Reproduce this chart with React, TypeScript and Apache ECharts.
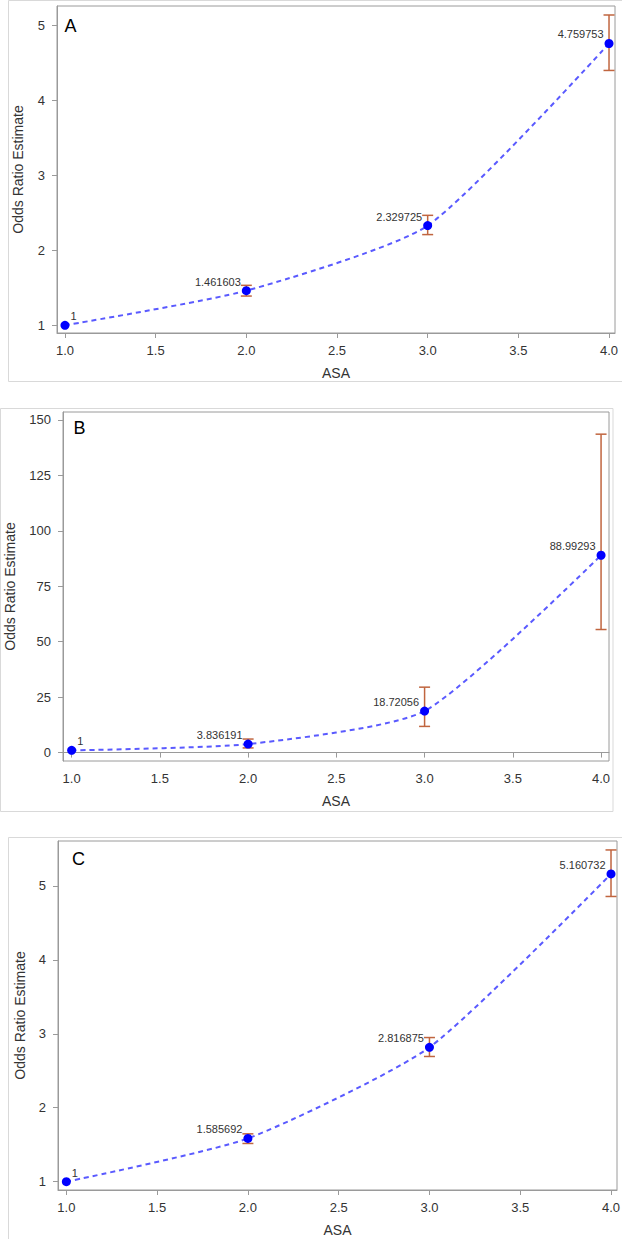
import React, { useEffect, useRef } from "react";
import * as echarts from "echarts";

// ---- data ----
const asa = [1, 2, 3, 4];

const orA = [1, 1.461603, 2.329725, 4.759753];
const lowA = [null, 1.39, 2.21, 4.4];
const highA = [null, 1.533, 2.467, 5.14];

const orB = [1, 3.836191, 18.72056, 88.99293];
const lowB = [null, 2.1, 11.8, 55.5];
const highB = [null, 6.1, 29.5, 143.6];

const orC = [1, 1.585692, 2.816875, 5.160732];
const lowC = [null, 1.517, 2.693, 4.856];
const highC = [null, 1.647, 2.949, 5.485];

const xTicks = [1, 1.5, 2, 2.5, 3, 3.5, 4];
const yTicksA = [1, 2, 3, 4, 5];
const yTicksB = [0, 25, 50, 75, 100, 125, 150];
const yTicksC = [1, 2, 3, 4, 5];

const panelLetters = ["A", "B", "C"];

const TICK_FONT = "'Liberation Sans Narrow', 'Arial Narrow', 'Liberation Sans', Arial, sans-serif";
const TEXT_FONT = "'Liberation Sans', Arial, sans-serif";
const ERR_COLOR = "#c0653f";

type Panel = {
  or: number[];
  low: (number | null)[];
  high: (number | null)[];
  yTicks: number[];
  yMin: number;
  yMax: number;
  xMin: number;
  xMax: number;
  grid: { left: number; top: number; width: number; height: number };
  nameGap: number;
};

const panels: Panel[] = [
  {
    or: orA, low: lowA, high: highA, yTicks: yTicksA,
    yMin: 0.897, yMax: 5.26, xMin: 0.956, xMax: 4.033,
    grid: { left: 57, top: 6, width: 558, height: 327 },
    nameGap: 32,
  },
  {
    or: orB, low: lowB, high: highB, yTicks: yTicksB,
    yMin: -3.8, yMax: 153.6, xMin: 0.951, xMax: 4.045,
    grid: { left: 63, top: 412, width: 546, height: 349 },
    nameGap: 46,
  },
  {
    or: orC, low: lowC, high: highC, yTicks: yTicksC,
    yMin: 0.888, yMax: 5.606, xMin: 0.954, xMax: 4.033,
    grid: { left: 58, top: 841, width: 559, height: 349 },
    nameGap: 31,
  },
];

const letterPos = [
  [70.6, 26],
  [79.4, 427.7],
  [78.6, 859.3],
];

export default function App() {
  const ref = useRef<HTMLDivElement>(null);

  useEffect(() => {
    if (!ref.current) return;
    const chart = echarts.init(ref.current, undefined, { renderer: "svg" });

    const grids: any[] = [];
    const xAxes: any[] = [];
    const yAxes: any[] = [];
    const series: any[] = [];

    panels.forEach((p, i) => {
      grids.push({
        ...p.grid,
        show: true,
        borderColor: "#9a9a9a",
        borderWidth: 1,
        containLabel: false,
        outerBoundsMode: "none",
      });
      xAxes.push({
        type: "value",
        gridIndex: i,
        min: p.xMin,
        max: p.xMax,
        name: "ASA",
        nameLocation: "middle",
        nameGap: 33,
        nameTextStyle: { fontFamily: TEXT_FONT, fontSize: 14, color: "#333" },
        axisLine: { show: true, lineStyle: { color: "#9a9a9a" } },
        axisTick: { show: true, length: 5, lineStyle: { color: "#9a9a9a" }, customValues: xTicks },
        axisLabel: {
          customValues: xTicks,
          margin: 11,
          fontFamily: TICK_FONT,
          fontSize: 13,
          color: "#333",
          formatter: (v: number) => v.toFixed(1),
        },
        splitLine: { show: false },
      });
      yAxes.push({
        type: "value",
        gridIndex: i,
        min: p.yMin,
        max: p.yMax,
        name: "Odds Ratio Estimate",
        nameLocation: "middle",
        nameGap: p.nameGap,
        nameTextStyle: { fontFamily: TEXT_FONT, fontSize: 14, color: "#333" },
        axisLine: { show: true, lineStyle: { color: "#9a9a9a" } },
        axisTick: { show: true, length: 5, lineStyle: { color: "#9a9a9a" }, customValues: p.yTicks },
        axisLabel: {
          customValues: p.yTicks,
          margin: 12,
          fontFamily: TICK_FONT,
          fontSize: 13,
          color: "#333",
          formatter: (v: number) => String(Math.round(v)),
        },
        splitLine: { show: false },
      });

      const errData = asa
        .map((x, k) => [x, p.low[k], p.high[k]])
        .filter((d) => d[1] != null && d[2] != null);

      series.push({
        type: "custom",
        xAxisIndex: i,
        yAxisIndex: i,
        z: 1,
        data: errData,
        renderItem: (params: any, api: any) => {
          const x = api.value(0);
          const lo = api.coord([x, api.value(1)]);
          const hi = api.coord([x, api.value(2)]);
          const w = 5.5;
          const style = { stroke: ERR_COLOR, lineWidth: 1.5 };
          return {
            type: "group",
            children: [
              { type: "line", shape: { x1: lo[0], y1: lo[1], x2: hi[0], y2: hi[1] }, style },
              { type: "line", shape: { x1: lo[0] - w, y1: lo[1], x2: lo[0] + w, y2: lo[1] }, style },
              { type: "line", shape: { x1: hi[0] - w, y1: hi[1], x2: hi[0] + w, y2: hi[1] }, style },
            ],
          };
        },
      });

      series.push({
        type: "line",
        xAxisIndex: i,
        yAxisIndex: i,
        z: 3,
        smooth: 0.2,
        symbol: "circle",
        symbolSize: 9,
        showAllSymbol: true,
        itemStyle: { color: "#0000ff" },
        lineStyle: { color: "#5a5aff", width: 2, type: [5, 4] },
        data: asa.map((x, k) => ({
          value: [x, p.or[k]],
          label: {
            show: true,
            position: k === 0 ? "right" : "left",
            distance: 1,
            offset: [0, -9],
            formatter: String(p.or[k]),
            fontFamily: TEXT_FONT,
            fontSize: 11,
            color: "#333",
          },
        })),
      });
    });

    const graphics: any[] = [
      { type: "rect", silent: true, shape: { x: 8.5, y: 0.5, width: 620, height: 381 }, style: { fill: "none", stroke: "#d9d9d9", lineWidth: 1 } },
      { type: "rect", silent: true, shape: { x: 0.5, y: 408.5, width: 612.5, height: 403 }, style: { fill: "none", stroke: "#d9d9d9", lineWidth: 1 } },
      { type: "rect", silent: true, shape: { x: 8.5, y: 837.5, width: 620, height: 410 }, style: { fill: "none", stroke: "#d9d9d9", lineWidth: 1 } },
    ];
    panelLetters.forEach((t, i) => {
      graphics.push({
        type: "text",
        x: letterPos[i][0],
        y: letterPos[i][1],
        style: {
          text: t,
          fontFamily: TEXT_FONT,
          fontSize: 18,
          fill: "#000",
          align: "center",
          verticalAlign: "middle",
        },
      });
    });

    chart.setOption({
      animation: false,
      backgroundColor: "#fff",
      grid: grids,
      xAxis: xAxes,
      yAxis: yAxes,
      series,
      graphic: graphics,
    });

    return () => chart.dispose();
  }, []);

  return (
    <div
      ref={ref}
      style={{ position: "absolute", left: 0, top: 0, width: 622, height: 1239 }}
    />
  );
}
